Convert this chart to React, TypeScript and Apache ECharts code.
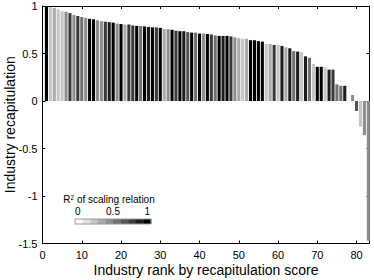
import React, { useEffect, useRef } from "react";
import * as echarts from "echarts";

// Industry recapitulation value for each rank (1..83); null = no bar drawn
const recapitulation: (number | null)[] = [
  1.0, 0.99, 0.98, 0.965, 0.945, 0.94, 0.925, 0.905, 0.895, 0.885,
  0.875, 0.865, 0.86, 0.85, 0.84, 0.835, 0.83, 0.825, 0.815, 0.81,
  0.805, 0.805, 0.795, 0.79, 0.79, 0.785, 0.78, 0.775, 0.775, 0.77,
  0.76, 0.755, 0.75, 0.74, 0.735, 0.735, 0.725, 0.72, 0.72, 0.71,
  0.71, 0.705, 0.7, 0.69, 0.685, 0.685, 0.685, 0.68, 0.67, 0.66,
  0.655, 0.655, 0.64, 0.64, 0.63, 0.625, 0.6, 0.6, 0.59, 0.59,
  0.58, 0.565, 0.555, 0.525, 0.52, 0.515, 0.47, 0.455, 0.39, 0.36,
  0.36, 0.355, 0.33, 0.33, 0.175, 0.16, 0.16, null, 0.063, -0.105,
  -0.27, -0.36, -1.47,
];

// R^2 of scaling relation for each rank (drives the bar shade)
const r2: number[] = [
  0.95, 0.25, 0.35, 0.2, 0.25, 0.4, 0.7, 0.45, 0.75, 0.5,
  0.4, 0.95, 0.92, 0.45, 0.4, 0.7, 0.8, 0.95, 0.4, 0.95,
  0.3, 0.7, 0.75, 0.95, 0.5, 0.9, 0.8, 0.95, 0.7, 0.95,
  0.3, 0.4, 0.95, 0.75, 0.95, 0.8, 0.6, 0.95, 0.5, 0.95,
  0.4, 0.95, 0.75, 0.5, 0.95, 0.8, 0.9, 0.75, 0.45, 0.35,
  0.25, 0.3, 0.95, 0.9, 0.95, 0.95, 0.25, 0.35, 0.75, 0.25,
  0.8, 0.3, 0.8, 0.55, 0.8, 0.2, 0.85, 0.5, 0.25, 0.95,
  0.95, 0.25, 0.8, 0.75, 0.5, 0.5, 0.8, 0.0, 0.45, 0.6,
  0.2, 0.45, 0.45,
];

const xTickValues = [0, 10, 20, 30, 40, 50, 60, 70, 80];
const yTickValues = [1, 0.5, 0, -0.5, -1, -1.5];
const legendTickLabels = ["0", "0.5", "1"];
const LEVELS = 10;

const FONT = "'Liberation Sans', Arial, Helvetica, sans-serif";

function levelColor(k: number): string {
  const g = Math.round(255 * (1 - k / (LEVELS - 1)));
  return `rgb(${g},${g},${g})`;
}
function shade(r: number): string {
  const k = Math.min(LEVELS - 1, Math.max(0, Math.floor(r * LEVELS)));
  return levelColor(k);
}

export default function App() {
  const ref = useRef<HTMLDivElement>(null);
  useEffect(() => {
    if (!ref.current) return;
    const chart = echarts.init(ref.current, undefined, { renderer: "svg" });

    const data = recapitulation
      .map((v, i) => ({ rank: i + 1, v, c: shade(r2[i]) }))
      .filter((d) => d.v !== null)
      .map((d) => ({ value: [d.rank, d.v], itemStyle: { color: d.c } }));

    const axisLine = { show: true, onZero: false, lineStyle: { color: "#000", width: 1 } };
    const axisTick = { show: true, inside: true, length: 3, lineStyle: { color: "#000", width: 1 } };

    const legendX = 75;
    const legendY = 219;
    const cellW = 7.6;
    const cellH = 5;
    const legendLabelX = [legendX + cellW / 2 - 1, legendX + 5 * cellW, legendX + 9.5 * cellW];

    const graphic: any[] = [];
    for (let k = 0; k < LEVELS; k++) {
      graphic.push({
        type: "rect",
        silent: true,
        shape: { x: legendX + k * cellW, y: legendY, width: cellW + 0.3, height: cellH },
        style: { fill: levelColor(k) },
      });
    }
    graphic.push({
      type: "rect",
      silent: true,
      shape: { x: legendX, y: legendY, width: LEVELS * cellW, height: cellH },
      style: { fill: "none", stroke: "#9a9a9a", lineWidth: 1 },
    });
    graphic.push({
      type: "text",
      silent: true,
      x: 109,
      y: 199.5,
      style: {
        text: "{b|R}{s|2}{b| of scaling relation}",
        rich: {
          b: { fontSize: 10, lineHeight: 11, fontFamily: FONT, fill: "#000", color: "#000" },
          s: { fontSize: 6.5, lineHeight: 11, fontFamily: FONT, fill: "#000", color: "#000", verticalAlign: "top" },
        },
        fill: "#000",
        fontSize: 10,
        fontFamily: FONT,
        align: "center",
        verticalAlign: "middle",
        textAlign: "center",
        textVerticalAlign: "middle",
      },
    });
    legendTickLabels.forEach((t, i) => {
      graphic.push({
        type: "text",
        silent: true,
        x: legendLabelX[i],
        y: 211.5,
        style: {
          text: t,
          fill: "#000",
          fontSize: 10,
          fontFamily: FONT,
          align: "center",
          verticalAlign: "middle",
          textAlign: "center",
          textVerticalAlign: "middle",
        },
      });
    });

    const option: any = {
      animation: false,
      textStyle: { fontFamily: FONT },
      grid: {
        left: 42.5,
        right: 4.5,
        top: 6,
        bottom: 36.5,
        containLabel: false,
        outerBoundsMode: "none",
      },
      xAxis: [
        {
          type: "value",
          min: 0,
          max: 83.3,
          interval: 10,
          position: "bottom",
          axisLine,
          axisTick,
          splitLine: { show: false },
          axisLabel: {
            show: true,
            color: "#000",
            fontSize: 11,
            fontFamily: FONT,
            margin: 6,
            formatter: (v: number) => (xTickValues.includes(v) ? String(v) : ""),
          },
          name: "Industry rank by recapitulation score",
          nameLocation: "middle",
          nameGap: 19,
          nameMoveOverlap: false,
          nameTextStyle: { fontSize: 14, color: "#000", fontFamily: FONT },
        },
        {
          type: "value",
          min: 0,
          max: 83.3,
          interval: 10,
          position: "top",
          axisLine,
          axisTick,
          splitLine: { show: false },
          axisLabel: { show: false },
        },
      ],
      yAxis: [
        {
          type: "value",
          min: -1.5,
          max: 1,
          interval: 0.5,
          position: "left",
          axisLine,
          axisTick,
          splitLine: { show: false },
          axisLabel: {
            show: true,
            color: "#000",
            fontSize: 11,
            fontFamily: FONT,
            margin: 5,
            formatter: (v: number) => {
              const m = yTickValues.find((t) => Math.abs(t - v) < 1e-9);
              return m === undefined ? "" : String(m);
            },
          },
          name: "Industry recapitulation",
          nameLocation: "middle",
          nameGap: 26,
          nameMoveOverlap: false,
          nameTextStyle: { fontSize: 14, color: "#000", fontFamily: FONT },
        },
        {
          type: "value",
          min: -1.5,
          max: 1,
          interval: 0.5,
          position: "right",
          axisLine,
          axisTick,
          splitLine: { show: false },
          axisLabel: { show: false },
        },
      ],
      series: [
        {
          type: "bar",
          xAxisIndex: 0,
          yAxisIndex: 0,
          barWidth: 3.1,
          data,
        },
      ],
      graphic,
    };
    chart.setOption(option);
    return () => chart.dispose();
  }, []);

  return (
    <div
      ref={ref}
      style={{ position: "fixed", left: 0, top: 0, width: 374, height: 280, background: "#fff" }}
    />
  );
}
